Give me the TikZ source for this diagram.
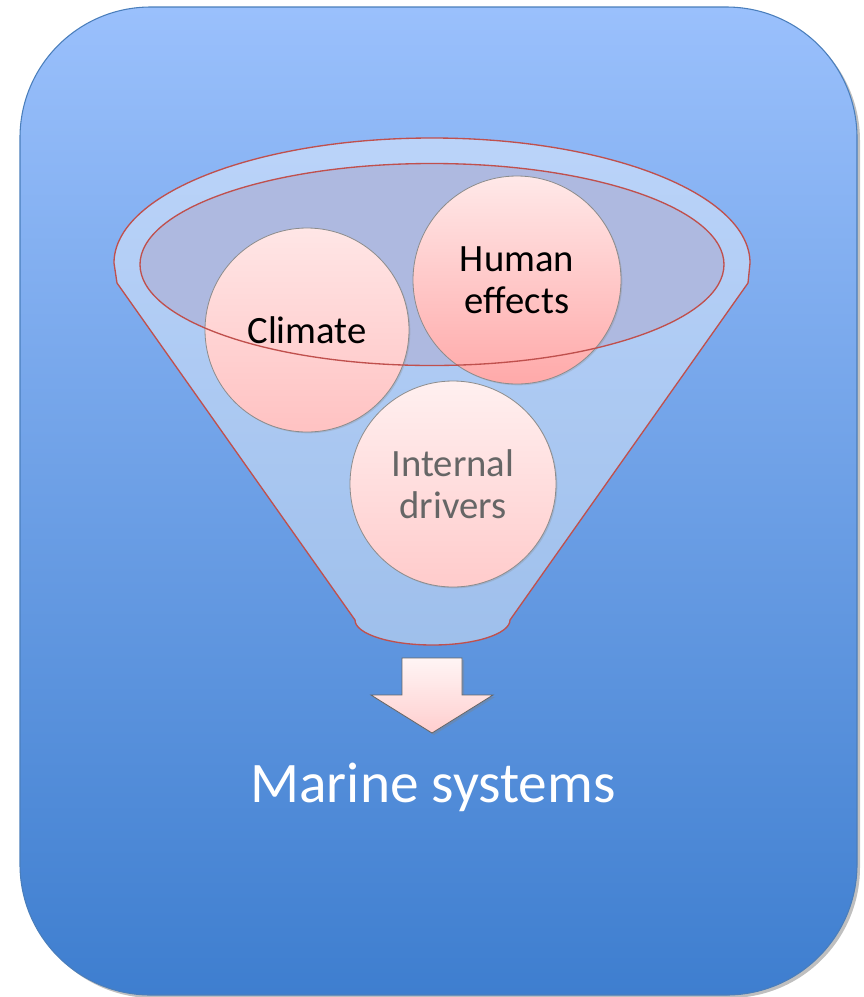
\documentclass[tikz,border=0pt]{standalone}
\usepackage{fontspec}
\setmainfont{Carlito}
\usetikzlibrary{shadows}
\definecolor{bgtop}{HTML}{9AC0FC}
\definecolor{bgbot}{HTML}{3E7ECF}
\definecolor{bgline}{HTML}{4A7EBB}
\definecolor{funred}{HTML}{C0504D}
\definecolor{innerfill}{HTML}{AEB9E0}
\definecolor{pinktop}{HTML}{FFE6E6}
\definecolor{pinkbot}{HTML}{FFC2C2}
\definecolor{pinkbotdark}{HTML}{FFA9A9}
\definecolor{circline}{HTML}{8C8C8C}
\tikzset{
  bubble/.style={circle, draw=circline, line width=0.6pt, top color=pinktop, bottom color=pinkbot,
     minimum size=#1*0.75pt, inner sep=0pt, align=center,
     font=\fontsize{29}{31.5}\selectfont},
  funline/.style={draw=funred, line width=1pt},
}
\begin{document}
\begin{tikzpicture}[x=0.75pt,y=-0.75pt]
\useasboundingbox (0,0) rectangle (864,997);
% background shadow
\fill[black, opacity=0.25, rounded corners=98pt] (23,10) rectangle (860,998);
% background
\path[top color=bgtop, bottom color=bgbot, draw=bgline, line width=0.8pt, rounded corners=98pt] (20,7) rectangle (857,995);
% funnel body
\path[fill=white, fill opacity=0.4, funline]
  (114,263) -- (117,283) -- (355,620)
  arc[start angle=180, end angle=0, x radius=77.5, y radius=25]
  -- (748,283) -- (750,263)
  arc[start angle=0, end angle=-180, x radius=318, y radius=125] -- cycle;
% inner ellipse fill
\fill[innerfill] (432,264.5) ellipse[x radius=292, y radius=101];
% bubbles
\node[bubble=204, drop shadow={opacity=0.25, shadow xshift=1pt, shadow yshift=-1pt}] (climate) at (307,330) {Climate};
\node[bubble=208, bottom color=pinkbotdark, top color=pinktop!90!white, drop shadow={opacity=0.25, shadow xshift=1pt, shadow yshift=-1pt}] (human) at (517,280) {Human\\effects};
\node[bubble=206, top color=pinktop!60!white, bottom color=pinkbot!85!white, text=black!60, drop shadow={opacity=0.25, shadow xshift=1pt, shadow yshift=-1pt}] (internal) at (453,484) {Internal\\drivers};
% inner ellipse outline on top
\draw[funline] (432,264.5) ellipse[x radius=292, y radius=101];
% down arrow
\path[top color=white!60!pinktop, bottom color=pinkbot!80!white, draw=black!60, line width=0.6pt,
      drop shadow={opacity=0.35, shadow xshift=1.5pt, shadow yshift=-1.5pt}]
  (402,658) -- (462,658) -- (462,695) -- (493,695) -- (432,733) -- (371,695) -- (402,695) -- cycle;
% label
\node[text=white, font=\fontsize{43}{50}\selectfont, inner sep=0pt] (marine) at (433,787) {Marine systems};
\end{tikzpicture}
\end{document}
